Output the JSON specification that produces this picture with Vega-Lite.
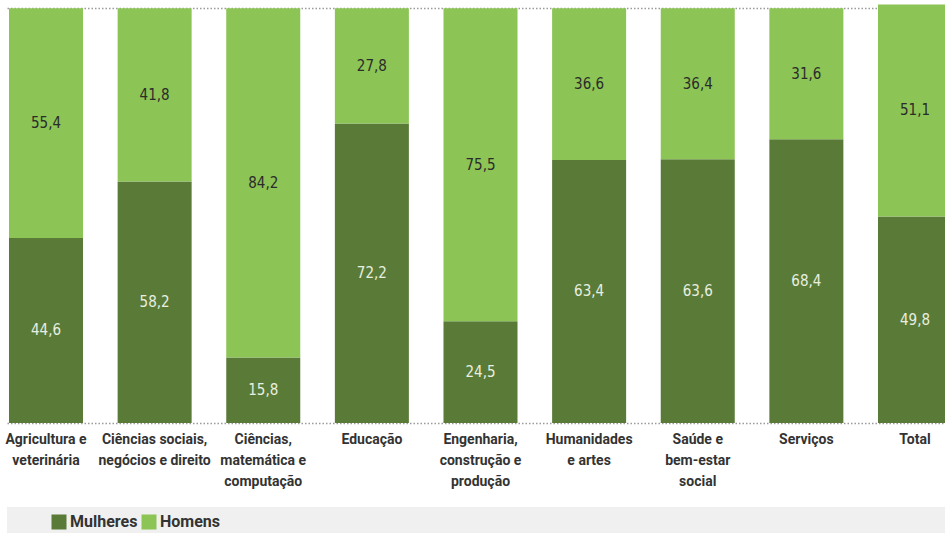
{
  "$schema": "https://vega.github.io/schema/vega-lite/v6.json",
  "padding": {"left": 4, "top": 4, "right": 0, "bottom": 0},
  "background": "white",
  "spacing": 84,
  "bounds": "flush",
  "config": {
    "locale": {"number": {"decimal": ",", "thousands": ".", "grouping": [3], "currency": ["", ""]}},
    "font": "DejaVu Sans Condensed, sans-serif",
    "view": {"stroke": null}
  },
  "datasets": {
    "main": [
      {"area": "Agricultura e|veterinária", "g": "Mulheres", "v": 44.6},
      {"area": "Agricultura e|veterinária", "g": "Homens", "v": 55.4},
      {"area": "Ciências sociais,|negócios e direito", "g": "Mulheres", "v": 58.2},
      {"area": "Ciências sociais,|negócios e direito", "g": "Homens", "v": 41.8},
      {"area": "Ciências,|matemática e|computação", "g": "Mulheres", "v": 15.8},
      {"area": "Ciências,|matemática e|computação", "g": "Homens", "v": 84.2},
      {"area": "Educação", "g": "Mulheres", "v": 72.2},
      {"area": "Educação", "g": "Homens", "v": 27.8},
      {"area": "Engenharia,|construção e|produção", "g": "Mulheres", "v": 24.5},
      {"area": "Engenharia,|construção e|produção", "g": "Homens", "v": 75.5},
      {"area": "Humanidades|e artes", "g": "Mulheres", "v": 63.4},
      {"area": "Humanidades|e artes", "g": "Homens", "v": 36.6},
      {"area": "Saúde e|bem-estar|social", "g": "Mulheres", "v": 63.6},
      {"area": "Saúde e|bem-estar|social", "g": "Homens", "v": 36.4},
      {"area": "Serviços", "g": "Mulheres", "v": 68.4},
      {"area": "Serviços", "g": "Homens", "v": 31.6},
      {"area": "Total", "g": "Mulheres", "v": 49.8},
      {"area": "Total", "g": "Homens", "v": 51.1}
    ],
    "blank": [{"t": ""}]
  },
  "vconcat": [
    {
      "width": 947,
      "height": 419,
      "data": {"name": "main"},
      "transform": [
        {"stack": "v", "groupby": ["area"], "sort": [{"field": "g", "order": "descending"}], "as": ["y0", "y1"]},
        {"calculate": "(datum.y0 + datum.y1) / 2", "as": "ymid"}
      ],
      "encoding": {
        "x": {
          "field": "area", "type": "nominal", "sort": null,
          "scale": {"paddingInner": 0.3186, "paddingOuter": 0.0184},
          "axis": {
            "title": null, "labelAngle": 0, "ticks": false, "domain": false,
            "labelExpr": "split(datum.label, '|')",
            "labelFont": "Roboto", "labelFontSize": 14, "labelFontWeight": "bold", "labelColor": "#333333",
            "labelLineHeight": 21, "labelPadding": 9, "labelLimit": 300,
            "labelBaseline": "top"
          }
        }
      },
      "layer": [
        {
          "mark": {"type": "bar"},
          "encoding": {
            "y": {
              "field": "y0", "type": "quantitative",
              "scale": {"domain": [0, 101], "nice": false},
              "axis": {
                "title": null, "labels": false, "ticks": false, "domain": false,
                "values": [0, 100], "grid": true, "gridColor": "#9a9a9a",
                "gridDash": [1.5, 2], "gridWidth": 1.5
              }
            },
            "y2": {"field": "y1"},
            "color": {
              "field": "g", "type": "nominal",
              "scale": {"domain": ["Mulheres", "Homens"], "range": ["#5a7b38", "#8cc455"]},
              "legend": {
                "title": null, "orient": "none", "legendX": 44, "legendY": 510,
                "direction": "horizontal", "symbolType": "square", "symbolSize": 225,
                "symbolStrokeWidth": 0, "symbolOpacity": 1,
                "labelFont": "Roboto", "labelFontSize": 16, "labelFontWeight": "bold", "labelColor": "#333333",
                "labelOffset": 3, "columnPadding": 3, "zindex": 1
              }
            }
          }
        },
        {
          "mark": {"type": "text", "fontSize": 15, "baseline": "middle", "align": "center"},
          "encoding": {
            "y": {"field": "ymid", "type": "quantitative"},
            "text": {"field": "v", "type": "quantitative", "format": ".1f"},
            "color": {
              "condition": {"test": "datum.g === 'Mulheres'", "value": "#e8efe0"},
              "value": "#2b2b2b"
            }
          }
        }
      ]
    },
    {
      "width": 947,
      "height": 26,
      "view": {"fill": "#eff0ef", "stroke": null},
      "data": {"name": "blank"},
      "mark": {"type": "text"},
      "encoding": {"text": {"field": "t"}}
    }
  ]
}
